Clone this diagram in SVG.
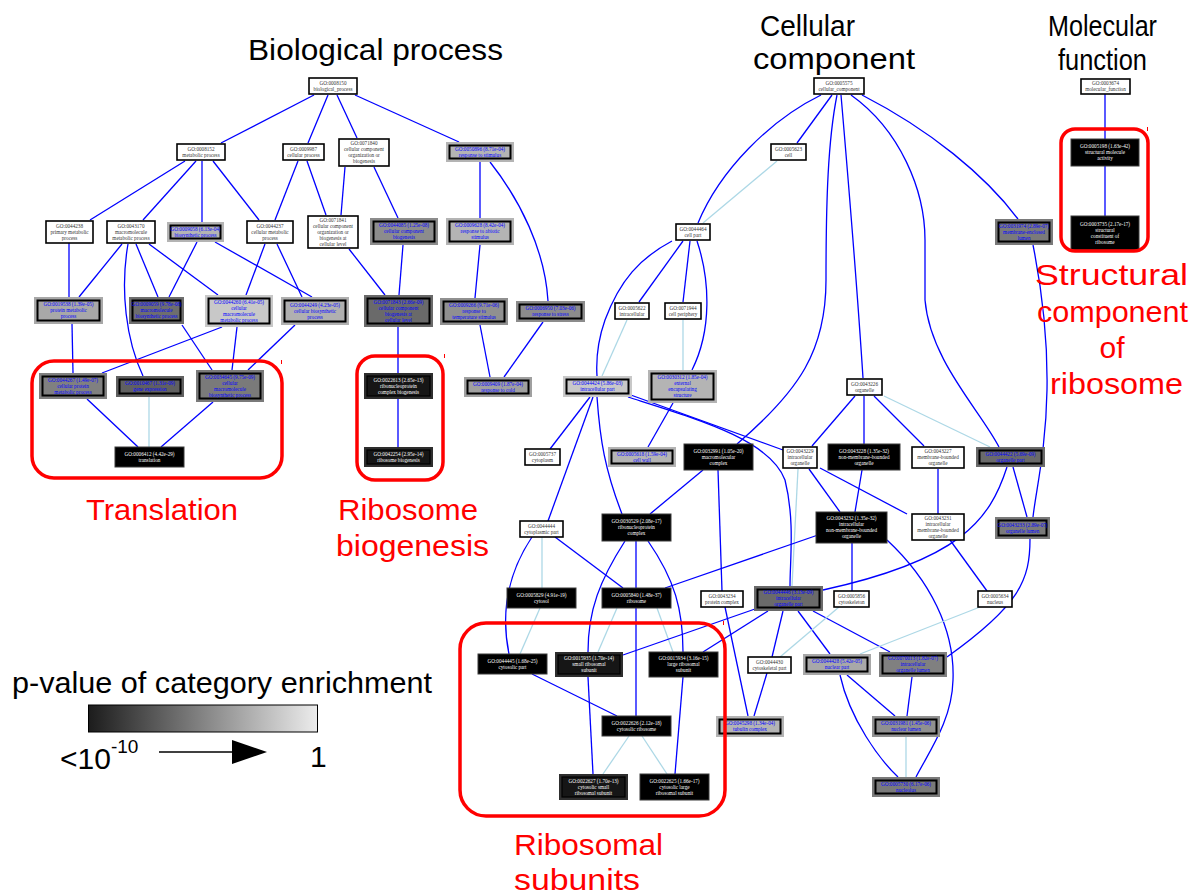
<svg xmlns="http://www.w3.org/2000/svg" width="1195" height="894" viewBox="0 0 1195 894">
<defs>
<style>
.t{font-family:"Liberation Serif","DejaVu Serif",serif;font-size:5.2px;text-anchor:middle}
.tk{fill:#333}
.tb{fill:#0000ff}
.tw{fill:#fff}
.pl{fill:#fff;stroke:#000;stroke-width:1.6}
.inr{stroke:#000;stroke-width:2}
.bk{fill:#000;stroke:#3a3a3a;stroke-width:1}
.e{fill:none;stroke:#0000ff;stroke-width:1.3}
.l{fill:none;stroke:#add8e6;stroke-width:1.3}
.fr{fill:none;stroke:#ff0000;stroke-width:3.5}
.hd{font-family:"Liberation Sans",Arial,sans-serif;font-size:30px;fill:#000}
.rl{font-family:"Liberation Sans",Arial,sans-serif;font-size:30px;fill:#ff0000}
.lg{font-family:"Liberation Sans",Arial,sans-serif;font-size:30px;fill:#000}
</style>
<linearGradient id="grad" x1="0" y1="0" x2="1" y2="0">
<stop offset="0" stop-color="#1c1c1c"/>
<stop offset="1" stop-color="#ececec"/>
</linearGradient>
</defs>
<rect width="1195" height="894" fill="#fff"/>

<!-- headers -->
<text class="hd" x="248" y="60" textLength="255" lengthAdjust="spacingAndGlyphs">Biological process</text>
<text class="hd" x="760" y="36" textLength="95" lengthAdjust="spacingAndGlyphs">Cellular</text>
<text class="hd" x="753" y="69" textLength="162" lengthAdjust="spacingAndGlyphs">component</text>
<text class="hd" x="1048" y="36" textLength="109" lengthAdjust="spacingAndGlyphs">Molecular</text>
<text class="hd" x="1058" y="70" textLength="89" lengthAdjust="spacingAndGlyphs">function</text>

<!-- connectors -->
<g id="connectors">
<path class="e" d="M314,95 L221,143"/>
<path class="e" d="M328,95 L308,143"/>
<path class="e" d="M337,95 L357,138"/>
<path class="e" d="M355,95 L459,142"/>
<path class="e" d="M185,161 L90,220"/>
<path class="e" d="M196,161 L143,220"/>
<path class="e" d="M202,161 L202,222"/>
<path class="e" d="M213,161 L259,220"/>
<path class="e" d="M298,161 L275,220"/>
<path class="e" d="M307,161 L326,215"/>
<path class="e" d="M345,167 L341,215"/>
<path class="e" d="M374,167 L398,218"/>
<path class="e" d="M480,162 L480,218"/>
<path class="e" d="M490,162 C520,200 545,250 548,301"/>
<path class="e" d="M69,243 L69,297"/>
<path class="e" d="M122,244 L79,297"/>
<path class="e" d="M128,244 C120,290 126,340 143,376"/>
<path class="e" d="M136,244 L158,297"/>
<path class="e" d="M149,244 L218,295"/>
<path class="e" d="M197,242 L169,297"/>
<path class="e" d="M215,242 L312,297"/>
<path class="e" d="M265,244 L246,295"/>
<path class="e" d="M277,244 L302,297"/>
<path class="e" d="M349,249 L385,295"/>
<path class="e" d="M403,245 L399,295"/>
<path class="e" d="M480,245 L475,298"/>
<path class="e" d="M72,324 L73,373"/>
<path class="e" d="M182,325 L212,370"/>
<path class="e" d="M222,327 L102,373"/>
<path class="e" d="M237,327 L232,370"/>
<path class="e" d="M295,325 L248,370"/>
<path class="e" d="M398,327 L398,373"/>
<path class="e" d="M480,325 L490,377"/>
<path class="e" d="M543,322 L504,377"/>
<path class="e" d="M87,399 L138,447"/>
<path class="l" d="M149,397 L149,447"/>
<path class="e" d="M213,402 L161,447"/>
<path class="e" d="M398,399 L398,447"/>

<path class="e" d="M821,95 C770,120 720,170 698,223"/>
<path class="e" d="M832,95 L797,143"/>
<path class="e" d="M837,95 C828,140 826,200 826,280 C826,350 800,390 737,444"/>
<path class="e" d="M841,95 C850,200 858,300 863,378"/>
<path class="e" d="M851,95 C900,130 925,190 925,240 L925,300 C930,360 980,410 999,447"/>
<path class="e" d="M862,95 C930,130 985,175 1018,219"/>
<path class="l" d="M777,161 L703,223"/>
<path class="e" d="M672,241 C640,258 620,280 605,320 C598,340 596,360 597,376"/>
<path class="e" d="M683,241 L639,302"/>
<path class="e" d="M690,241 L683,302"/>
<path class="e" d="M697,241 C710,280 712,330 692,370"/>
<path class="e" d="M1033,245 C1040,280 1048,330 1047,390 C1046,450 1036,490 1033,517"/>
<path class="l" d="M627,320 L602,376"/>
<path class="l" d="M683,320 L683,370"/>
<path class="e" d="M590,397 L550,449"/>
<path class="e" d="M593,397 L548,521"/>
<path class="e" d="M597,397 C600,440 605,470 622,514"/>
<path class="e" d="M628,394 L783,450"/>
<path class="e" d="M628,397 C700,420 770,440 785,480 C795,520 790,560 790,586"/>
<path class="e" d="M673,403 L648,447"/>
<path class="e" d="M703,470 L650,514"/>
<path class="e" d="M718,470 L722,591"/>
<path class="e" d="M855,396 L812,446"/>
<path class="e" d="M864,396 L864,444"/>
<path class="e" d="M874,396 L924,446"/>
<path class="l" d="M884,396 L990,447"/>
<path class="e" d="M809,469 L840,512"/>
<path class="e" d="M820,468 L907,514"/>
<path class="l" d="M798,469 L792,586"/>
<path class="e" d="M862,470 L855,512"/>
<path class="e" d="M938,469 L938,514"/>
<path class="e" d="M1013,467 L1027,517"/>
<path class="e" d="M1007,467 C990,520 960,560 823,590"/>
<path class="e" d="M532,537 C510,570 500,610 509,654"/>
<path class="l" d="M542,537 L542,588"/>
<path class="e" d="M555,537 L623,588"/>
<path class="e" d="M625,541 C600,580 588,610 588,652"/>
<path class="e" d="M636,541 L636,588"/>
<path class="e" d="M648,541 C675,580 683,610 683,652"/>
<path class="e" d="M818,535 L665,588"/>
<path class="e" d="M852,543 L852,591"/>
<path class="e" d="M887,540 C930,580 955,630 953,680 C952,720 930,750 916,777"/>
<path class="e" d="M950,540 L987,591"/>
<path class="e" d="M1030,539 C1030,580 1020,605 947,657"/>
<path class="l" d="M617,608 L598,652"/>
<path class="e" d="M636,608 L636,716"/>
<path class="l" d="M657,608 L673,652"/>
<path class="l" d="M540,608 L520,654"/>
<path class="e" d="M725,607 L748,716"/>
<path class="e" d="M755,609 L623,655"/>
<path class="e" d="M768,611 L703,652"/>
<path class="e" d="M783,611 L772,657"/>
<path class="e" d="M798,611 L830,654"/>
<path class="e" d="M813,611 L890,652"/>
<path class="l" d="M839,607 L780,657"/>
<path class="l" d="M980,607 L860,654"/>
<path class="e" d="M532,674 L617,716"/>
<path class="e" d="M588,677 L593,774"/>
<path class="e" d="M683,677 L675,774"/>
<path class="e" d="M767,673 L754,716"/>
<path class="e" d="M847,675 L895,716"/>
<path class="e" d="M840,675 C850,720 880,760 898,777"/>
<path class="e" d="M912,677 L907,716"/>
<path class="l" d="M629,736 L603,774"/>
<path class="l" d="M642,736 L667,774"/>
<path class="l" d="M906,737 L906,777"/>
<path class="e" d="M1105,94 L1105,139"/>
<path class="e" d="M1105,166 L1105,216"/>
</g>

<!-- BP nodes -->
<g id="n1"><rect class="pl" x="309" y="78" width="48" height="16"/><text class="t tk"><tspan x="333" y="84.8">GO:0008150</tspan><tspan x="333" y="90.8">biological_process</tspan></text></g>
<g id="n2"><rect class="pl" x="177" y="144" width="48" height="16"/><text class="t tk"><tspan x="201" y="150.8">GO:0008152</tspan><tspan x="201" y="156.8">metabolic process</tspan></text></g>
<g id="n3"><rect class="pl" x="283" y="144" width="41" height="16"/><text class="t tk"><tspan x="303.5" y="150.8">GO:0009987</tspan><tspan x="303.5" y="156.8">cellular process</tspan></text></g>
<g id="n4"><rect class="pl" x="339" y="139" width="50" height="27"/><text class="t tk"><tspan x="364" y="145.3">GO:0071840</tspan><tspan x="364" y="151.3">cellular component</tspan><tspan x="364" y="157.3">organization or</tspan><tspan x="364" y="163.3">biogenesis</tspan></text></g>
<g id="n5"><rect x="446" y="142" width="68" height="20" fill="#b4b4b4"/><rect class="inr" x="449.5" y="145.5" width="61" height="13" fill="#b4b4b4"/><text class="t tb"><tspan x="480" y="150.8">GO:0050896 (8.71e-04)</tspan><tspan x="480" y="156.8">response to stimulus</tspan></text></g>
<g id="n6"><rect class="pl" x="46" y="221" width="47" height="22"/><text class="t tk"><tspan x="69.5" y="227.8">GO:0044238</tspan><tspan x="69.5" y="233.8">primary metabolic</tspan><tspan x="69.5" y="239.8">process</tspan></text></g>
<g id="n7"><rect class="pl" x="107" y="221" width="48" height="22"/><text class="t tk"><tspan x="131" y="227.8">GO:0043170</tspan><tspan x="131" y="233.8">macromolecule</tspan><tspan x="131" y="239.8">metabolic process</tspan></text></g>
<g id="n8"><rect x="167" y="222" width="57" height="20" fill="#b4b4b4"/><rect class="inr" x="170.5" y="225.5" width="50" height="13" fill="#b4b4b4"/><text class="t tb"><tspan x="195.5" y="230.8">GO:0009058 (6.13e-04)</tspan><tspan x="195.5" y="236.8">biosynthetic process</tspan></text></g>
<g id="n9"><rect class="pl" x="247" y="221" width="46" height="22"/><text class="t tk"><tspan x="270" y="227.8">GO:0044237</tspan><tspan x="270" y="233.8">cellular metabolic</tspan><tspan x="270" y="239.8">process</tspan></text></g>
<g id="n10"><rect class="pl" x="308" y="216" width="50" height="32"/><text class="t tk"><tspan x="333" y="221.8">GO:0071841</tspan><tspan x="333" y="227.8">cellular component</tspan><tspan x="333" y="233.8">organization or</tspan><tspan x="333" y="239.8">biogenesis at</tspan><tspan x="333" y="245.8">cellular level</tspan></text></g>
<g id="n11"><rect x="370" y="218" width="68" height="27" fill="#8c8c8c"/><rect class="inr" x="373.5" y="221.5" width="61" height="20" fill="#8c8c8c"/><text class="t tb"><tspan x="404" y="227.3">GO:0044085 (1.25e-08)</tspan><tspan x="404" y="233.3">cellular component</tspan><tspan x="404" y="239.3">biogenesis</tspan></text></g>
<g id="n12"><rect x="446" y="218" width="68" height="27" fill="#b4b4b4"/><rect class="inr" x="449.5" y="221.5" width="61" height="20" fill="#b4b4b4"/><text class="t tb"><tspan x="480" y="227.3">GO:0009628 (8.42e-04)</tspan><tspan x="480" y="233.3">response to abiotic</tspan><tspan x="480" y="239.3">stimulus</tspan></text></g>
<g id="n13"><rect x="34" y="297" width="69" height="27" fill="#a8a8a8"/><rect class="inr" x="37.5" y="300.5" width="62" height="20" fill="#a8a8a8"/><text class="t tb"><tspan x="68.5" y="306.3">GO:0019538 (1.39e-05)</tspan><tspan x="68.5" y="312.3">protein metabolic</tspan><tspan x="68.5" y="318.3">process</tspan></text></g>
<g id="n14"><rect x="129" y="297" width="55" height="27" fill="#6e6e6e"/><rect class="inr" x="132.5" y="300.5" width="48" height="20" fill="#6e6e6e"/><text class="t tb"><tspan x="156.5" y="306.3">GO:0009059 (9.78e-08)</tspan><tspan x="156.5" y="312.3">macromolecule</tspan><tspan x="156.5" y="318.3">biosynthetic process</tspan></text></g>
<g id="n15"><rect x="205" y="295" width="68" height="32" fill="#c8c8c8"/><rect class="inr" x="208.5" y="298.5" width="61" height="25" fill="#c8c8c8"/><text class="t tb"><tspan x="239" y="303.8">GO:0044260 (6.41e-05)</tspan><tspan x="239" y="309.8">cellular</tspan><tspan x="239" y="315.8">macromolecule</tspan><tspan x="239" y="321.8">metabolic process</tspan></text></g>
<g id="n16"><rect x="281" y="297" width="68" height="28" fill="#b0b0b0"/><rect class="inr" x="284.5" y="300.5" width="61" height="21" fill="#b0b0b0"/><text class="t tb"><tspan x="315" y="306.8">GO:0044249 (4.23e-05)</tspan><tspan x="315" y="312.8">cellular biosynthetic</tspan><tspan x="315" y="318.8">process</tspan></text></g>
<g id="n17"><rect x="364" y="295" width="69" height="32" fill="#6a6a6a"/><rect class="inr" x="367.5" y="298.5" width="62" height="25" fill="#6a6a6a"/><text class="t tb"><tspan x="398.5" y="303.8">GO:0071843 (2.66e-09)</tspan><tspan x="398.5" y="309.8">cellular component</tspan><tspan x="398.5" y="315.8">biogenesis at</tspan><tspan x="398.5" y="321.8">cellular level</tspan></text></g>
<g id="n18"><rect x="440" y="298" width="68" height="27" fill="#909090"/><rect class="inr" x="443.5" y="301.5" width="61" height="20" fill="#909090"/><text class="t tb"><tspan x="474" y="307.3">GO:0009266 (9.71e-06)</tspan><tspan x="474" y="313.3">response to</tspan><tspan x="474" y="319.3">temperature stimulus</tspan></text></g>
<g id="n19"><rect x="516" y="301" width="69" height="21" fill="#8c8c8c"/><rect class="inr" x="519.5" y="304.5" width="62" height="14" fill="#8c8c8c"/><text class="t tb"><tspan x="550.5" y="310.3">GO:0006950 (7.03e-06)</tspan><tspan x="550.5" y="316.3">response to stress</tspan></text></g>
<g id="n20"><rect x="464" y="377" width="68" height="20" fill="#a0a0a0"/><rect class="inr" x="467.5" y="380.5" width="61" height="13" fill="#a0a0a0"/><text class="t tb"><tspan x="498" y="385.8">GO:0009409 (1.87e-04)</tspan><tspan x="498" y="391.8">response to cold</tspan></text></g>
<g id="n21"><rect x="39" y="373" width="68" height="26" fill="#808080"/><rect class="inr" x="42.5" y="376.5" width="61" height="19" fill="#808080"/><text class="t tb"><tspan x="73" y="381.8">GO:0044267 (1.49e-07)</tspan><tspan x="73" y="387.8">cellular protein</tspan><tspan x="73" y="393.8">metabolic process</tspan></text></g>
<g id="n22"><rect x="116" y="376" width="68" height="21" fill="#606060"/><rect class="inr" x="119.5" y="379.5" width="61" height="14" fill="#606060"/><text class="t tb"><tspan x="150" y="385.3">GO:0010467 (1.31e-09)</tspan><tspan x="150" y="391.3">gene expression</tspan></text></g>
<g id="n23"><rect x="196" y="370" width="68" height="32" fill="#7a7a7a"/><rect class="inr" x="199.5" y="373.5" width="61" height="25" fill="#7a7a7a"/><text class="t tb"><tspan x="230" y="378.8">GO:0034645 (9.75e-09)</tspan><tspan x="230" y="384.8">cellular</tspan><tspan x="230" y="390.8">macromolecule</tspan><tspan x="230" y="396.8">biosynthetic process</tspan></text></g>
<g id="n24"><rect class="bk" x="115" y="447" width="69" height="20"/><text class="t tw"><tspan x="149.5" y="455.8">GO:0006412 (4.42e-29)</tspan><tspan x="149.5" y="461.8">translation</tspan></text></g>
<g id="n25"><rect x="364" y="373" width="69" height="26" fill="#2e2e2e"/><rect x="367" y="376" width="63" height="20" fill="#161616" stroke="#000" stroke-width="1.2"/><text class="t tw"><tspan x="398.5" y="381.8">GO:0022613 (2.65e-13)</tspan><tspan x="398.5" y="387.8">ribonucleoprotein</tspan><tspan x="398.5" y="393.8">complex biogenesis</tspan></text></g>
<g id="n26"><rect x="364" y="447" width="69" height="20" fill="#2e2e2e"/><rect x="367" y="450" width="63" height="14" fill="#161616" stroke="#000" stroke-width="1.2"/><text class="t tw"><tspan x="398.5" y="455.8">GO:0042254 (2.95e-14)</tspan><tspan x="398.5" y="461.8">ribosome biogenesis</tspan></text></g>

<!-- CC nodes -->
<g id="c1"><rect class="pl" x="814" y="78" width="50" height="16"/><text class="t tk"><tspan x="839" y="84.8">GO:0005575</tspan><tspan x="839" y="90.8">cellular_component</tspan></text></g>
<g id="c2"><rect class="pl" x="771" y="144" width="35" height="16"/><text class="t tk"><tspan x="788.5" y="150.8">GO:0005623</tspan><tspan x="788.5" y="156.8">cell</tspan></text></g>
<g id="c3"><rect class="pl" x="676" y="224" width="34" height="16"/><text class="t tk"><tspan x="693" y="230.8">GO:0044464</tspan><tspan x="693" y="236.8">cell part</tspan></text></g>
<g id="c4"><rect x="995" y="219" width="58" height="26" fill="#7a7a7a"/><rect class="inr" x="998.5" y="222.5" width="51" height="19" fill="#7a7a7a"/><text class="t tb"><tspan x="1024" y="227.8">GO:0031974 (2.89e-07)</tspan><tspan x="1024" y="233.8">membrane-enclosed</tspan><tspan x="1024" y="239.8">lumen</tspan></text></g>
<g id="c5"><rect class="pl" x="615" y="303" width="34" height="16"/><text class="t tk"><tspan x="632" y="309.8">GO:0005622</tspan><tspan x="632" y="315.8">intracellular</tspan></text></g>
<g id="c6"><rect class="pl" x="665" y="303" width="36" height="16"/><text class="t tk"><tspan x="683" y="309.8">GO:0071944</tspan><tspan x="683" y="315.8">cell periphery</tspan></text></g>
<g id="c7"><rect x="563" y="376" width="69" height="21" fill="#c8c8c8"/><rect class="inr" x="566.5" y="379.5" width="62" height="14" fill="#c8c8c8"/><text class="t tb"><tspan x="597.5" y="385.3">GO:0044424 (5.86e-03)</tspan><tspan x="597.5" y="391.3">intracellular part</tspan></text></g>
<g id="c8"><rect x="648" y="370" width="69" height="33" fill="#b4b4b4"/><rect class="inr" x="651.5" y="373.5" width="62" height="26" fill="#b4b4b4"/><text class="t tb"><tspan x="682.5" y="379.3">GO:0030312 (1.85e-04)</tspan><tspan x="682.5" y="385.3">external</tspan><tspan x="682.5" y="391.3">encapsulating</tspan><tspan x="682.5" y="397.3">structure</tspan></text></g>
<g id="c9"><rect class="pl" x="847" y="379" width="35" height="16"/><text class="t tk"><tspan x="864.5" y="385.8">GO:0043226</tspan><tspan x="864.5" y="391.8">organelle</tspan></text></g>
<g id="c10"><rect class="pl" x="525" y="449" width="35" height="16"/><text class="t tk"><tspan x="542.5" y="455.8">GO:0005737</tspan><tspan x="542.5" y="461.8">cytoplasm</tspan></text></g>
<g id="c11"><rect x="608" y="447" width="68" height="20" fill="#b4b4b4"/><rect class="inr" x="611.5" y="450.5" width="61" height="13" fill="#b4b4b4"/><text class="t tb"><tspan x="642" y="455.8">GO:0005618 (1.59e-04)</tspan><tspan x="642" y="461.8">cell wall</tspan></text></g>
<g id="c12"><rect class="bk" x="684" y="444" width="69" height="26"/><text class="t tw"><tspan x="718.5" y="452.8">GO:0032991 (1.05e-20)</tspan><tspan x="718.5" y="458.8">macromolecular</tspan><tspan x="718.5" y="464.8">complex</tspan></text></g>
<g id="c13"><rect class="pl" x="783" y="447" width="34" height="21"/><text class="t tk"><tspan x="800" y="453.3">GO:0043229</tspan><tspan x="800" y="459.3">intracellular</tspan><tspan x="800" y="465.3">organelle</tspan></text></g>
<g id="c14"><rect class="bk" x="828" y="444" width="72" height="26"/><text class="t tw"><tspan x="864" y="452.8">GO:0043228 (1.35e-32)</tspan><tspan x="864" y="458.8">non-membrane-bounded</tspan><tspan x="864" y="464.8">organelle</tspan></text></g>
<g id="c15"><rect class="pl" x="912" y="447" width="52" height="21"/><text class="t tk"><tspan x="938" y="453.3">GO:0043227</tspan><tspan x="938" y="459.3">membrane-bounded</tspan><tspan x="938" y="465.3">organelle</tspan></text></g>
<g id="c16"><rect x="976" y="447" width="69" height="20" fill="#6a6a6a"/><rect class="inr" x="979.5" y="450.5" width="62" height="13" fill="#6a6a6a"/><text class="t tb"><tspan x="1010.5" y="455.8">GO:0044422 (5.69e-09)</tspan><tspan x="1010.5" y="461.8">organelle part</tspan></text></g>
<g id="c17"><rect class="pl" x="520" y="521" width="43" height="16"/><text class="t tk"><tspan x="541.5" y="527.8">GO:0044444</tspan><tspan x="541.5" y="533.8">cytoplasmic part</tspan></text></g>
<g id="c18"><rect class="bk" x="602" y="514" width="69" height="27"/><text class="t tw"><tspan x="636.5" y="523.3">GO:0030529 (2.08e-17)</tspan><tspan x="636.5" y="529.3">ribonucleoprotein</tspan><tspan x="636.5" y="535.3">complex</tspan></text></g>
<g id="c19"><rect class="bk" x="816" y="512" width="71" height="31"/><text class="t tw"><tspan x="851.5" y="520.3">GO:0043232 (1.35e-32)</tspan><tspan x="851.5" y="526.3">intracellular</tspan><tspan x="851.5" y="532.3">non-membrane-bounded</tspan><tspan x="851.5" y="538.3">organelle</tspan></text></g>
<g id="c20"><rect class="pl" x="912" y="514" width="52" height="26"/><text class="t tk"><tspan x="938" y="519.8">GO:0043231</tspan><tspan x="938" y="525.8">intracellular</tspan><tspan x="938" y="531.8">membrane-bounded</tspan><tspan x="938" y="537.8">organelle</tspan></text></g>
<g id="c21"><rect x="995" y="517" width="55" height="22" fill="#7a7a7a"/><rect class="inr" x="998.5" y="520.5" width="48" height="15" fill="#7a7a7a"/><text class="t tb"><tspan x="1022.5" y="526.8">GO:0043233 (2.89e-07)</tspan><tspan x="1022.5" y="532.8">organelle lumen</tspan></text></g>
<g id="c22"><rect class="bk" x="507" y="588" width="69" height="20"/><text class="t tw"><tspan x="541.5" y="596.8">GO:0005829 (4.91e-19)</tspan><tspan x="541.5" y="602.8">cytosol</tspan></text></g>
<g id="c23"><rect class="bk" x="602" y="588" width="69" height="20"/><text class="t tw"><tspan x="636.5" y="596.8">GO:0005840 (1.48e-37)</tspan><tspan x="636.5" y="602.8">ribosome</tspan></text></g>
<g id="c24"><rect class="pl" x="701" y="591" width="42" height="16"/><text class="t tk"><tspan x="722" y="597.8">GO:0043234</tspan><tspan x="722" y="603.8">protein complex</tspan></text></g>
<g id="c25"><rect x="754" y="586" width="69" height="25" fill="#6a6a6a"/><rect class="inr" x="757.5" y="589.5" width="62" height="18" fill="#6a6a6a"/><text class="t tb"><tspan x="788.5" y="594.3">GO:0044446 (3.13e-09)</tspan><tspan x="788.5" y="600.3">intracellular</tspan><tspan x="788.5" y="606.3">organelle part</tspan></text></g>
<g id="c26"><rect class="pl" x="834" y="591" width="35" height="16"/><text class="t tk"><tspan x="851.5" y="597.8">GO:0005856</tspan><tspan x="851.5" y="603.8">cytoskeleton</tspan></text></g>
<g id="c27"><rect class="pl" x="978" y="591" width="34" height="16"/><text class="t tk"><tspan x="995" y="597.8">GO:0005634</tspan><tspan x="995" y="603.8">nucleus</tspan></text></g>
<g id="c28"><rect class="bk" x="478" y="654" width="69" height="20"/><text class="t tw"><tspan x="512.5" y="662.8">GO:0044445 (1.68e-25)</tspan><tspan x="512.5" y="668.8">cytosolic part</tspan></text></g>
<g id="c29"><rect x="555" y="652" width="68" height="25" fill="#2e2e2e"/><rect x="558" y="655" width="62" height="19" fill="#161616" stroke="#000" stroke-width="1.2"/><text class="t tw"><tspan x="589" y="660.3">GO:0015935 (1.70e-14)</tspan><tspan x="589" y="666.3">small ribosomal</tspan><tspan x="589" y="672.3">subunit</tspan></text></g>
<g id="c30"><rect class="bk" x="649" y="652" width="69" height="25"/><text class="t tw"><tspan x="683.5" y="660.3">GO:0015934 (3.16e-15)</tspan><tspan x="683.5" y="666.3">large ribosomal</tspan><tspan x="683.5" y="672.3">subunit</tspan></text></g>
<g id="c31"><rect class="pl" x="748" y="657" width="43" height="16"/><text class="t tk"><tspan x="769.5" y="663.8">GO:0044430</tspan><tspan x="769.5" y="669.8">cytoskeletal part</tspan></text></g>
<g id="c32"><rect x="803" y="654" width="68" height="21" fill="#a8a8a8"/><rect class="inr" x="806.5" y="657.5" width="61" height="14" fill="#a8a8a8"/><text class="t tb"><tspan x="837" y="663.3">GO:0044428 (5.42e-05)</tspan><tspan x="837" y="669.3">nuclear part</tspan></text></g>
<g id="c33"><rect x="879" y="652" width="68" height="25" fill="#808080"/><rect class="inr" x="882.5" y="655.5" width="61" height="18" fill="#808080"/><text class="t tb"><tspan x="913" y="660.3">GO:0070013 (1.82e-07)</tspan><tspan x="913" y="666.3">intracellular</tspan><tspan x="913" y="672.3">organelle lumen</tspan></text></g>
<g id="c34"><rect class="bk" x="602" y="716" width="69" height="20"/><text class="t tw"><tspan x="636.5" y="724.8">GO:0022626 (2.12e-18)</tspan><tspan x="636.5" y="730.8">cytosolic ribosome</tspan></text></g>
<g id="c35"><rect x="716" y="716" width="68" height="21" fill="#b4b4b4"/><rect class="inr" x="719.5" y="719.5" width="61" height="14" fill="#b4b4b4"/><text class="t tb"><tspan x="750" y="725.3">GO:0045298 (1.34e-04)</tspan><tspan x="750" y="731.3">tubulin complex</tspan></text></g>
<g id="c36"><rect x="872" y="716" width="68" height="21" fill="#909090"/><rect class="inr" x="875.5" y="719.5" width="61" height="14" fill="#909090"/><text class="t tb"><tspan x="906" y="725.3">GO:0031981 (1.45e-06)</tspan><tspan x="906" y="731.3">nuclear lumen</tspan></text></g>
<g id="c37"><rect x="559" y="774" width="69" height="26" fill="#2e2e2e"/><rect x="562" y="777" width="63" height="20" fill="#161616" stroke="#000" stroke-width="1.2"/><text class="t tw"><tspan x="593.5" y="782.8">GO:0022627 (1.70e-13)</tspan><tspan x="593.5" y="788.8">cytosolic small</tspan><tspan x="593.5" y="794.8">ribosomal subunit</tspan></text></g>
<g id="c38"><rect class="bk" x="640" y="774" width="69" height="26"/><text class="t tw"><tspan x="674.5" y="782.8">GO:0022625 (1.66e-17)</tspan><tspan x="674.5" y="788.8">cytosolic large</tspan><tspan x="674.5" y="794.8">ribosomal subunit</tspan></text></g>
<g id="c39"><rect x="872" y="777" width="68" height="20" fill="#7a7a7a"/><rect class="inr" x="875.5" y="780.5" width="61" height="13" fill="#7a7a7a"/><text class="t tb"><tspan x="906" y="785.8">GO:0005730 (6.17e-06)</tspan><tspan x="906" y="791.8">nucleolus</tspan></text></g>

<!-- MF nodes -->
<g id="m1"><rect class="pl" x="1081" y="79" width="49" height="15"/><text class="t tk"><tspan x="1105.5" y="85.3">GO:0003674</tspan><tspan x="1105.5" y="91.3">molecular_function</tspan></text></g>
<g id="m2"><rect class="bk" x="1071" y="139" width="68" height="27"/><text class="t tw"><tspan x="1105" y="148.3">GO:0005198 (1.63e-42)</tspan><tspan x="1105" y="154.3">structural molecule</tspan><tspan x="1105" y="160.3">activity</tspan></text></g>
<g id="m3"><rect class="bk" x="1071" y="216" width="68" height="34"/><text class="t tw"><tspan x="1105" y="225.8">GO:0003735 (2.17e-17)</tspan><tspan x="1105" y="231.8">structural</tspan><tspan x="1105" y="237.8">constituent of</tspan><tspan x="1105" y="243.8">ribosome</tspan></text></g>

<!-- highlight frames -->
<g id="frames">
<rect class="fr" x="32" y="361" width="250" height="117" rx="22"/>
<rect class="fr" x="357" y="356" width="86" height="124" rx="18"/>
<rect class="fr" x="460" y="623" width="265" height="193" rx="26"/>
<rect class="fr" x="1061" y="129" width="87" height="122" rx="14"/>
<rect x="281" y="360" width="1" height="4" fill="#ff0000"/>
<rect x="444" y="354" width="1" height="4" fill="#ff0000"/>
<rect x="723" y="621" width="1" height="4" fill="#ff0000"/>
<rect x="1147" y="127" width="1" height="4" fill="#ff0000"/>
</g>

<!-- red labels -->
<text class="rl" x="86" y="520" textLength="152" lengthAdjust="spacingAndGlyphs">Translation</text>
<text class="rl" x="338" y="520" textLength="140" lengthAdjust="spacingAndGlyphs">Ribosome</text>
<text class="rl" x="336" y="556" textLength="153" lengthAdjust="spacingAndGlyphs">biogenesis</text>
<text class="rl" x="514" y="855" textLength="149" lengthAdjust="spacingAndGlyphs">Ribosomal</text>
<text class="rl" x="514" y="890" textLength="126" lengthAdjust="spacingAndGlyphs">subunits</text>
<text class="rl" x="1035" y="285" textLength="153" lengthAdjust="spacingAndGlyphs">Structural</text>
<text class="rl" x="1037" y="322" textLength="151" lengthAdjust="spacingAndGlyphs">component</text>
<text class="rl" x="1112" y="358" text-anchor="middle">of</text>
<text class="rl" x="1050" y="394" textLength="133" lengthAdjust="spacingAndGlyphs">ribosome</text>

<!-- legend -->
<g id="legend">
<text class="lg" x="12" y="693" textLength="420" lengthAdjust="spacingAndGlyphs">p-value of category enrichment</text>
<rect x="88.5" y="705" width="229" height="27" fill="url(#grad)" stroke="#000" stroke-width="1"/>
<text class="lg" x="60" y="769">&lt;10<tspan font-size="19" dy="-16">-10</tspan></text>
<line x1="159" y1="752" x2="234" y2="752" stroke="#000" stroke-width="1.3"/>
<polygon points="232,740 267,752 232,764" fill="#000"/>
<text class="lg" x="310" y="767">1</text>
</g>
</svg>
